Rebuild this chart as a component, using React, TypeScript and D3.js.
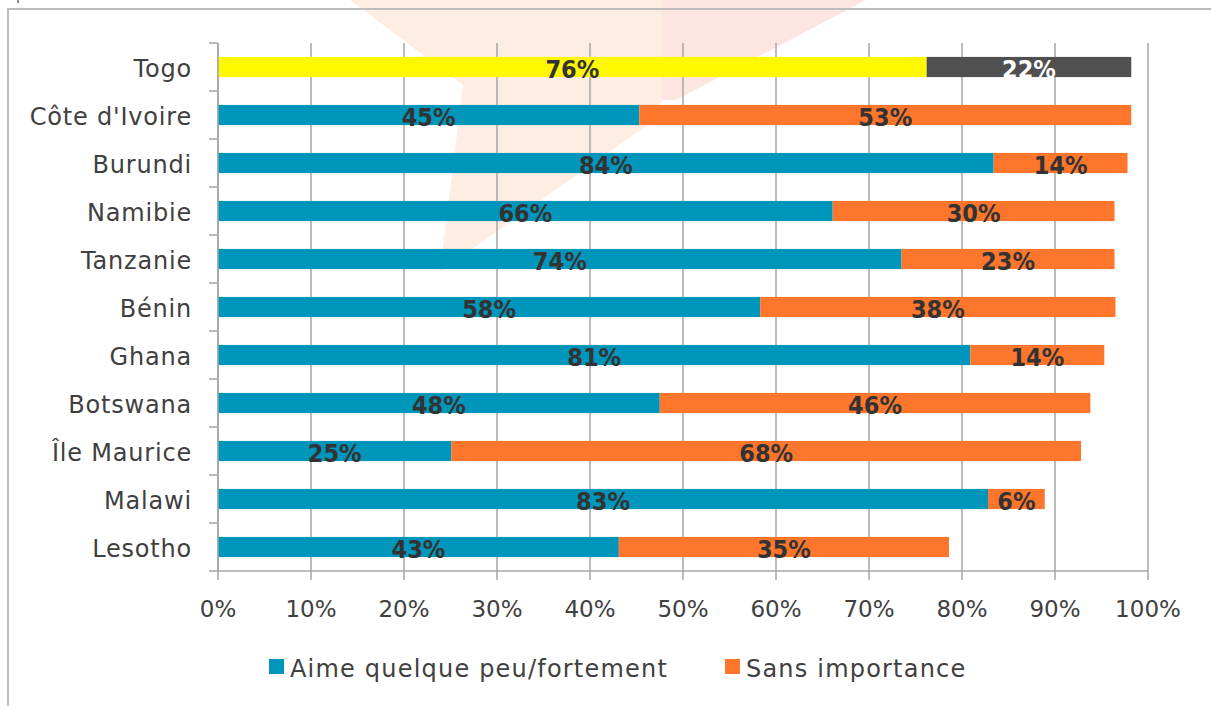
import React, { useEffect, useRef } from 'react';
import * as d3 from 'd3';

const countries = ['Togo', "Côte d'Ivoire", 'Burundi', 'Namibie', 'Tanzanie', 'Bénin', 'Ghana', 'Botswana', 'Île Maurice', 'Malawi', 'Lesotho'];
// bar lengths
const aime = [76.2, 45.3, 83.4, 66.1, 73.5, 58.3, 80.9, 47.5, 25.1, 82.8, 43.1];
const sans = [22.0, 52.9, 14.4, 30.3, 22.9, 38.2, 14.4, 46.3, 67.7, 6.1, 35.5];
// the labels printed on the bars
const aimeLabels = ['76%', '45%', '84%', '66%', '74%', '58%', '81%', '48%', '25%', '83%', '43%'];
const sansLabels = ['22%', '53%', '14%', '30%', '23%', '38%', '14%', '46%', '68%', '6%', '35%'];
const xTicks = [0, 10, 20, 30, 40, 50, 60, 70, 80, 90, 100];
const legendNames = ['Aime quelque peu/fortement', 'Sans importance'];

const BLUE = '#0096bb';
const ORANGE = '#fe762c';
const YELLOW = '#fff800';
const DARK = '#505050';
const GRID = '#a6a6a6';
const TEXT = '#404040';
const FONT = '"DejaVu Sans", sans-serif';

function App() {
  const ref = useRef<SVGSVGElement>(null);

  useEffect(() => {
    const svg = d3.select(ref.current);
    svg.selectAll('*').remove();

    const w = 1211, h = 706;
    const left = 218, right = 1148, top = 43, bottom = 571;

    const x = d3.scaleLinear().domain([0, 100]).range([left, right]);
    const y = d3.scaleBand().domain(countries).range([top, bottom]).padding(0);
    const barH = y.bandwidth() * 0.42;

    svg.append('rect').attr('width', w).attr('height', h).attr('fill', '#fff');

    // faint logo watermark behind the chart
    svg.append('path')
      .attr('d', 'M350,0 L662,0 L662,100 L650,123 L440,272 L463,85 Z')
      .attr('fill', '#fdede3');
    svg.append('path')
      .attr('d', 'M662,0 L866,0 L676,100 L662,100 Z')
      .attr('fill', '#fde5e1');

    // frame
    svg.append('path')
      .attr('d', `M8,${h} L8,9 L${w},9`)
      .attr('fill', 'none')
      .attr('stroke', '#bdbdbd')
      .attr('stroke-width', 2);
    svg.append('line').attr('x1', 18).attr('x2', 18).attr('y1', 0).attr('y2', 3)
      .attr('stroke', '#666').attr('stroke-width', 1.5);

    // vertical grid + bottom ticks
    svg.append('g').selectAll('line').data(xTicks).enter().append('line')
      .attr('x1', d => x(d)).attr('x2', d => x(d))
      .attr('y1', top).attr('y2', bottom + 9)
      .attr('stroke', GRID).attr('stroke-width', 1.5);

    // left axis ticks at band edges
    const edges = countries.map(c => y(c) as number).concat([bottom]);
    svg.append('g').selectAll('line').data(edges).enter().append('line')
      .attr('x1', left - 9).attr('x2', left)
      .attr('y1', d => d).attr('y2', d => d)
      .attr('stroke', GRID).attr('stroke-width', 1.5);

    svg.append('line').attr('x1', left).attr('x2', right).attr('y1', bottom).attr('y2', bottom)
      .attr('stroke', GRID).attr('stroke-width', 1.5);

    const rows = svg.append('g').selectAll('g').data(countries).enter().append('g');

    rows.append('rect')
      .attr('x', x(0))
      .attr('y', d => (y(d) as number) + (y.bandwidth() - barH) / 2)
      .attr('width', (d, i) => x(aime[i]) - x(0))
      .attr('height', barH)
      .attr('fill', (d, i) => i === 0 ? YELLOW : BLUE);

    rows.append('rect')
      .attr('x', (d, i) => x(aime[i]))
      .attr('y', d => (y(d) as number) + (y.bandwidth() - barH) / 2)
      .attr('width', (d, i) => x(aime[i] + sans[i]) - x(aime[i]))
      .attr('height', barH)
      .attr('fill', (d, i) => i === 0 ? DARK : ORANGE);

    svg.append('line').attr('x1', left).attr('x2', left).attr('y1', top).attr('y2', bottom)
      .attr('stroke', GRID).attr('stroke-width', 1.5);

    const labelStyle = (sel: any) => sel
      .attr('text-anchor', 'middle')
      .attr('font-family', '"DejaVu Sans Condensed", "DejaVu Sans", sans-serif')
      .attr('font-weight', 'bold')
      .attr('font-size', 25);

    rows.append('text')
      .attr('x', (d, i) => x(aime[i] / 2))
      .attr('y', d => (y(d) as number) + y.bandwidth() / 2 + 11)
      .attr('fill', '#333')
      .text((d, i) => aimeLabels[i])
      .call(labelStyle);

    rows.append('text')
      .attr('x', (d, i) => x(aime[i] + sans[i] / 2))
      .attr('y', d => (y(d) as number) + y.bandwidth() / 2 + 11)
      .attr('fill', (d, i) => i === 0 ? '#fff' : '#333')
      .text((d, i) => sansLabels[i])
      .call(labelStyle);

    // category labels
    svg.append('g').selectAll('text').data(countries).enter().append('text')
      .attr('x', 192)
      .attr('y', d => (y(d) as number) + y.bandwidth() / 2 + 10)
      .attr('text-anchor', 'end')
      .attr('font-family', FONT)
      .attr('font-size', 24)
      .attr('letter-spacing', 0.8)
      .attr('fill', TEXT)
      .text(d => d);

    // x tick labels
    svg.append('g').selectAll('text').data(xTicks).enter().append('text')
      .attr('x', d => x(d))
      .attr('y', 617)
      .attr('text-anchor', 'middle')
      .attr('font-family', FONT)
      .attr('font-size', 23)
      .attr('fill', TEXT)
      .text(d => d + '%');

    // legend
    const legendX = [269, 725];
    const legend = svg.append('g').selectAll('g').data(legendNames).enter().append('g');
    legend.append('rect')
      .attr('x', (d, i) => legendX[i]).attr('y', 659)
      .attr('width', 15).attr('height', 15)
      .attr('fill', (d, i) => i === 0 ? BLUE : ORANGE);
    legend.append('text')
      .attr('x', (d, i) => legendX[i] + 21).attr('y', 677)
      .attr('font-family', FONT)
      .attr('font-size', 24)
      .attr('letter-spacing', 1.2)
      .attr('fill', TEXT)
      .text(d => d);
  }, []);

  return (
    <svg ref={ref} width={1211} height={706}
      style={{ position: 'absolute', left: 0, top: 0, display: 'block' }} />
  );
}

export default App;
